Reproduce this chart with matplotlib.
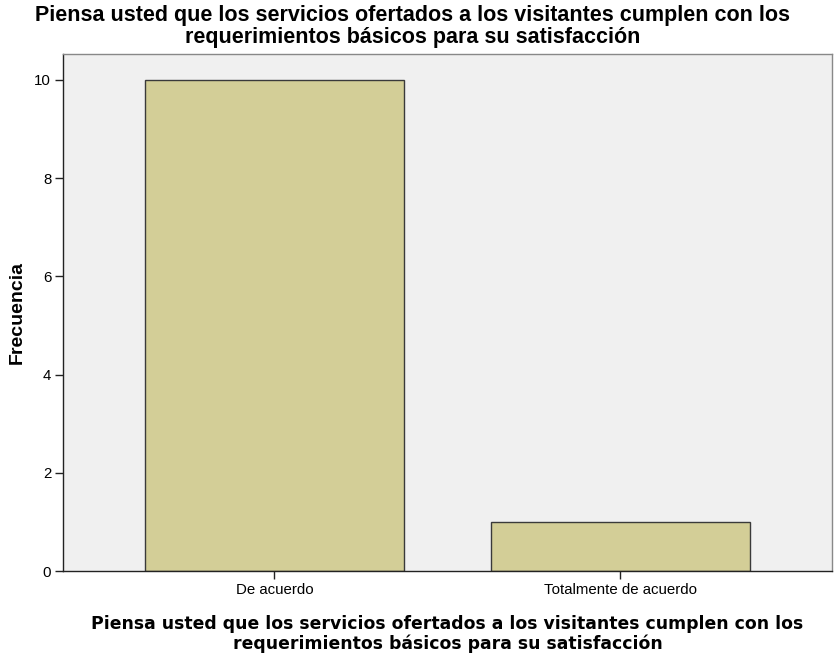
import matplotlib
matplotlib.use("Agg")
import matplotlib.pyplot as plt

categories = ["De acuerdo", "Totalmente de acuerdo"]
frequencies = [10, 1]
yticks = [0, 2, 4, 6, 8, 10]
title = ("Piensa usted que los servicios ofertados a los visitantes cumplen con los\n"
         "requerimientos básicos para su satisfacción")

plt.rcParams["font.family"] = ["Liberation Sans", "DejaVu Sans"]

W, H = 834, 658
fig = plt.figure(figsize=(W / 100, H / 100), dpi=100)
ax = fig.add_axes([0.0755, 0.1322, 0.922, 0.7858])
ax.set_facecolor("#F0F0F0")

x = range(len(categories))
ax.bar(x, frequencies, width=0.749, color="#D3CE97", edgecolor="#3a3a3a", linewidth=1.0)

ax.set_xlim(-0.611, 1.611)
ax.set_ylim(0, 10.53)
ax.set_xticks(list(x))
ax.set_xticklabels(categories, fontsize=10.8)
ax.set_yticks(yticks)
ax.set_yticklabels([str(t) for t in yticks], fontsize=10.8)
ax.tick_params(axis="both", length=6, width=1.0, color="#222222", pad=2.5)

for side in ["left", "bottom"]:
    ax.spines[side].set_color("#222222")
    ax.spines[side].set_linewidth(1.0)
for side in ["top", "right"]:
    ax.spines[side].set_color("#888888")
    ax.spines[side].set_linewidth(1.0)

ax.set_ylabel("Frecuencia", fontsize=14, fontweight="bold", labelpad=6)

# axis title (below, centred on the axes) and chart title (above)
ax.text(0.5, -(634 - 571) / 517, title, transform=ax.transAxes, ha="center",
        va="center", fontsize=12.4, fontweight="bold", linespacing=1.1,
        family=["DejaVu Sans"])
fig.text(0.495, 1 - 26.5 / H, title, ha="center", va="center", fontsize=15.5,
         fontweight="bold", linespacing=1.12)

fig.savefig("out.png", dpi=100)
